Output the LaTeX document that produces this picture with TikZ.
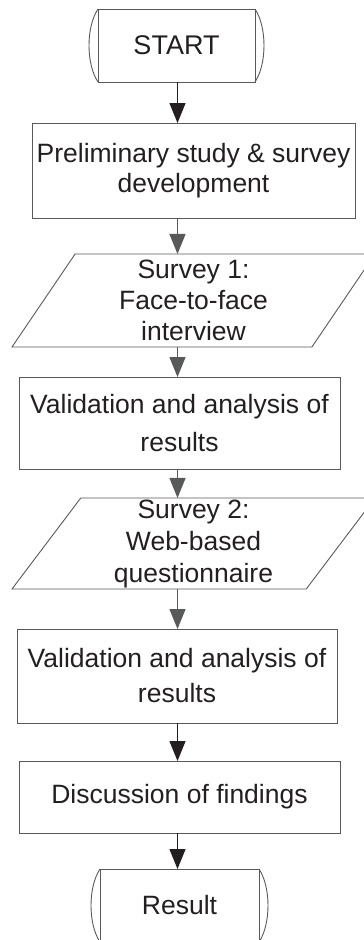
\documentclass[tikz,border=0pt]{standalone}
\usepackage{fontspec}
\setmainfont{Liberation Sans}
\usetikzlibrary{arrows.meta,shapes.geometric}
\definecolor{ink}{HTML}{231F20}
\definecolor{edge}{HTML}{58595B}
\definecolor{greyarrow}{HTML}{58595B}

\begin{document}
\begin{tikzpicture}[x=1pt,y=-1pt,
  box/.style={draw=edge, line width=0.9pt, rectangle, inner sep=0pt, outer sep=0pt,
    align=center, text=ink, font=\fontsize{26.5}{31}\selectfont},
  io/.style={box, trapezium, trapezium left angle=52, trapezium right angle=128,
    trapezium stretches body, minimum width=363pt, minimum height=93pt},
  sidearc/.style={draw=edge, line width=0.9pt},
  flow/.style={line width=1.3pt, -{Triangle[length=20pt,width=16pt]}},
  dark/.style={flow, draw=ink},
  grey/.style={flow, draw=greyarrow}]

\useasboundingbox (0,0) rectangle (364,940);
\clip (0,0) rectangle (364,940);

% terminators and process steps
\node[box, minimum width=157pt, minimum height=73pt, font=\fontsize{27}{31}\selectfont]
  (st) at (176.5,45.5) {START};
\node[box, minimum width=323pt, minimum height=95pt, font=\fontsize{26.5}{30}\selectfont]
  (pre) at (193.5,170.5) {Preliminary study \& survey\\development};
\node[io] (s1) at (193.5,300.5) {Survey 1:\\Face-to-face\\interview};
\node[box, minimum width=321pt, minimum height=92pt, font=\fontsize{26.5}{38}\selectfont]
  (v1) at (179.5,423) {Validation and analysis of\\results};
\node[io, minimum height=91pt, font=\fontsize{26.5}{32}\selectfont]
  (s2) at (193.5,543.5) {Survey 2:\\Web-based\\questionnaire};
\node[box, minimum width=320pt, minimum height=94pt, font=\fontsize{26.5}{35}\selectfont]
  (v2) at (177,676) {Validation and analysis of\\results};
\node[box, minimum width=321pt, minimum height=72pt] (disc) at (179.5,797) {Discussion of findings};
\node[box, minimum width=159pt, minimum height=73pt] (res) at (179.5,905.5) {Result};

% rounded ends of the terminators
\foreach \t in {st,res}{
  \draw[sidearc] (\t.north west) .. controls +(-12,18) and +(-12,-18) .. (\t.south west);
  \draw[sidearc] (\t.north east) .. controls +(12,18) and +(12,-18) .. (\t.south east);
}

% connectors
\coordinate (ax) at (177.5,0);
\draw[dark] (ax |- st.south) -- (ax |- pre.north);
\draw[grey] (ax |- pre.south) -- (ax |- s1.north);
\draw[grey] (ax |- s1.south) -- (ax |- v1.north);
\draw[grey] (ax |- v1.south) -- (ax |- s2.north);
\draw[grey] (ax |- s2.south) -- (ax |- v2.north);
\draw[dark] (ax |- v2.south) -- (ax |- disc.north);
\draw[dark] (ax |- disc.south) -- (ax |- res.north);
\end{tikzpicture}
\end{document}
